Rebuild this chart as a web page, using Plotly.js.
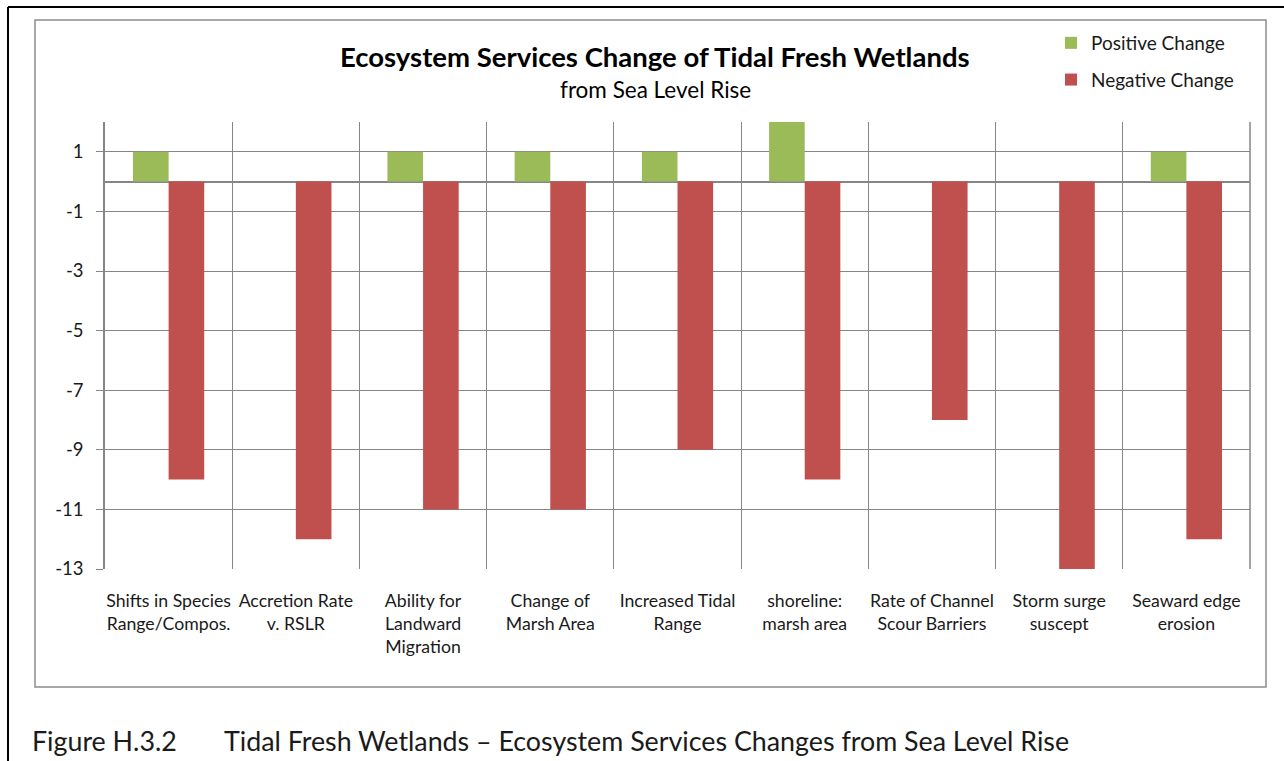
<!DOCTYPE html>
<html>
<head>
<meta charset="utf-8">
<script src="https://cdn.plot.ly/plotly-3.0.1.min.js"></script>
<style>
  html, body { margin: 0; padding: 0; background: #fff; }
  #chart { width: 1284px; height: 761px; }
</style>
</head>
<body>
<div id="chart"></div>
<script>
// categories as they sit under the axis (line breaks from the original)
var categories = [
  'Shifts in Species<br>Range/Compos.',
  'Accretion Rate<br>v. RSLR',
  'Ability for<br>Landward<br>Migration',
  'Change of<br>Marsh Area',
  'Increased Tidal<br>Range',
  'shoreline:<br>marsh area',
  'Rate of Channel<br>Scour Barriers',
  'Storm surge<br>suscept',
  'Seaward edge<br>erosion'
];
var positive = [1, 0, 1, 1, 1, 2, 0, 0, 1];
var negative = [-10, -12, -11, -11, -9, -10, -8, -13, -12];
var yTicks = [1, -1, -3, -5, -7, -9, -11, -13];

var FONT = 'Lato, "Open Sans", sans-serif';
var GRID = '#868686';

// helpers to place frame lines in paper units (plot area 105..1250 x 122..569 px)
function px(x) { return (x - 105) / 1145; }
function py(y) { return (569 - y) / 447; }

var data = [
  {
    type: 'bar',
    name: 'Positive Change',
    x: categories,
    y: positive,
    marker: {color: '#9BBB59'},
    legendgroup: 'pos',
    hoverinfo: 'x+y+name'
  },
  {
    type: 'bar',
    name: 'Negative Change',
    x: categories,
    y: negative,
    marker: {color: '#C0504D'},
    legendgroup: 'neg',
    hoverinfo: 'x+y+name'
  }
];

var layout = {
  width: 1284,
  height: 761,
  margin: {l: 105, r: 34, t: 122, b: 192},
  paper_bgcolor: '#fff',
  plot_bgcolor: '#fff',
  font: {family: FONT, size: 17.5, color: '#1a1a1a'},
  barmode: 'group',
  bargap: 0.44,
  bargroupgap: 0,
  showlegend: true,
  legend: {
    x: px(1051), y: py(24), xanchor: 'left', yanchor: 'top',
    font: {family: FONT, size: 19, color: '#1a1a1a'},
    tracegroupgap: 9,
    bgcolor: 'rgba(0,0,0,0)'
  },
  xaxis: {
    type: 'category',
    range: [-0.5, 8.5],
    tickson: 'boundaries',
    tickangle: 0,
    showgrid: true,
    gridcolor: GRID,
    gridwidth: 1.3,
    ticks: '',
    showline: false,
    zeroline: false,
    tickfont: {family: FONT, size: 17.7, color: '#1a1a1a'},
    ticklabelstandoff: 19
  },
  yaxis: {
    range: [-13, 2],
    tickvals: yTicks,
    ticktext: yTicks.map(String),
    showgrid: true,
    gridcolor: GRID,
    gridwidth: 1.3,
    zeroline: true,
    zerolinecolor: GRID,
    zerolinewidth: 2,
    showline: true,
    linecolor: GRID,
    linewidth: 1.5,
    ticks: 'outside',
    ticklen: 7,
    tickcolor: GRID,
    tickwidth: 1.3,
    tickfont: {family: FONT, size: 18.5, color: '#1a1a1a'},
    ticklabelstandoff: 9
  },
  shapes: [
    // right edge of the plot area
    {type: 'line', xref: 'paper', yref: 'paper', x0: 1, x1: 1, y0: 0, y1: 1,
     line: {color: GRID, width: 1.5}},
    // chart area border
    {type: 'rect', xref: 'paper', yref: 'paper',
     x0: px(35), x1: px(1266), y0: py(687), y1: py(20),
     line: {color: '#8c8c8c', width: 1.5}, fillcolor: 'rgba(0,0,0,0)'},
    // outer black frame, top and left
    {type: 'line', xref: 'paper', yref: 'paper',
     x0: px(8), x1: px(1290), y0: py(7), y1: py(7),
     line: {color: '#000', width: 2}},
    {type: 'line', xref: 'paper', yref: 'paper',
     x0: px(8), x1: px(8), y0: py(7), y1: py(765),
     line: {color: '#000', width: 2}}
  ],
  annotations: [
    {xref: 'paper', yref: 'paper', x: px(655), y: py(56), xanchor: 'center', yanchor: 'middle',
     showarrow: false, text: '<b>Ecosystem Services Change of Tidal Fresh Wetlands</b>',
     font: {family: FONT, size: 27.5, color: '#000'}},
    {xref: 'paper', yref: 'paper', x: px(655), y: py(89), xanchor: 'center', yanchor: 'middle',
     showarrow: false, text: 'from Sea Level Rise',
     font: {family: FONT, size: 22.5, color: '#000'}},
    {xref: 'paper', yref: 'paper', x: px(30), y: py(741), xanchor: 'left', yanchor: 'middle',
     showarrow: false, text: 'Figure H.3.2',
     font: {family: FONT, size: 26.8, color: '#1a1a1a'}},
    {xref: 'paper', yref: 'paper', x: px(222), y: py(741), xanchor: 'left', yanchor: 'middle',
     showarrow: false, text: 'Tidal Fresh Wetlands \u2013 Ecosystem Services Changes from Sea Level Rise',
     font: {family: FONT, size: 26.8, color: '#1a1a1a'}}
  ]
};

Plotly.newPlot('chart', data, layout, {displayModeBar: false});
</script>
</body>
</html>
